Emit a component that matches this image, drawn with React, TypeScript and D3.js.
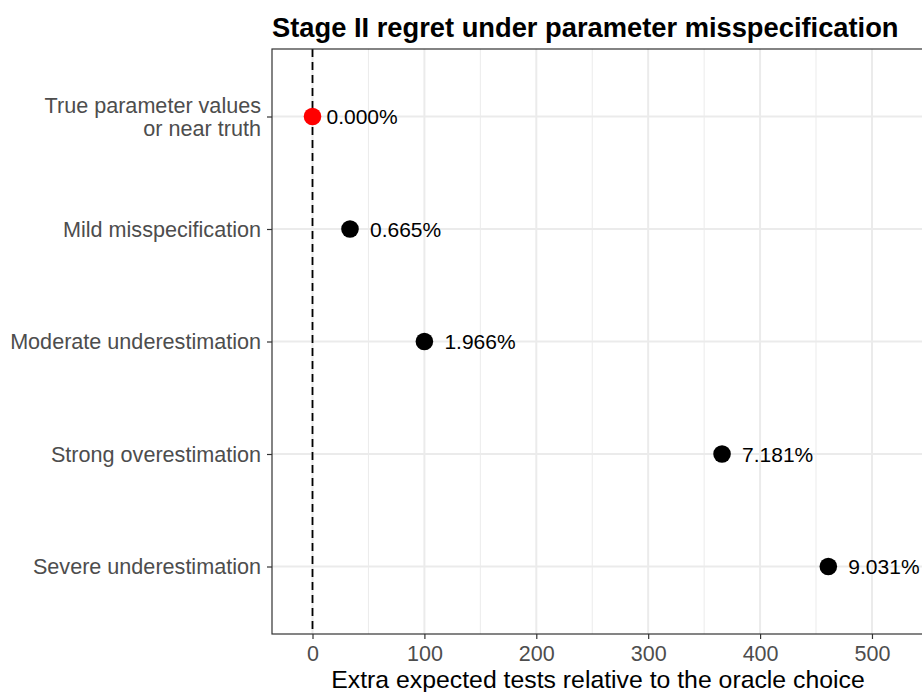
import React, { useEffect, useRef } from 'react';
import * as d3 from 'd3';

const scenarios = [
  'True parameter values\nor near truth',
  'Mild misspecification',
  'Moderate underestimation',
  'Strong overestimation',
  'Severe underestimation',
];
const extraTests = [0, 33.5, 100, 366, 461];
const regretPct = ['0.000%', '0.665%', '1.966%', '7.181%', '9.031%'];
const xTicks = [0, 100, 200, 300, 400, 500];
const xMinor = [50, 150, 250, 350, 450];

const App = () => {
  const svgRef = useRef<SVGSVGElement>(null);

  useEffect(() => {
    const width = 922;
    const height = 692;
    const margin = { top: 49, right: -2, bottom: 58, left: 272 };
    const font = '"Liberation Sans", Arial, sans-serif';

    const svg = d3.select(svgRef.current);
    svg.selectAll('*').remove();
    svg.attr('width', width).attr('height', height).style('font-family', font);

    const x = d3
      .scaleLinear()
      .domain([-36.2, 546.5])
      .range([margin.left, width - margin.right]);

    // discrete y with ggplot-like 0.6 expansion
    const y = d3
      .scalePoint<string>()
      .domain(scenarios)
      .range([margin.top, height - margin.bottom])
      .padding(0.6);

    const top = margin.top;
    const bottom = height - margin.bottom;
    const left = margin.left;
    const right = width - margin.right;

    svg.append('rect').attr('x', 0).attr('y', 0).attr('width', width).attr('height', height).attr('fill', 'white');

    // minor grid
    svg
      .selectAll('.minor')
      .data(xMinor)
      .enter()
      .append('line')
      .attr('x1', (d) => x(d))
      .attr('x2', (d) => x(d))
      .attr('y1', top)
      .attr('y2', bottom)
      .attr('stroke', '#ebebeb')
      .attr('stroke-width', 1);

    // major grid
    svg
      .selectAll('.majorx')
      .data(xTicks)
      .enter()
      .append('line')
      .attr('x1', (d) => x(d))
      .attr('x2', (d) => x(d))
      .attr('y1', top)
      .attr('y2', bottom)
      .attr('stroke', '#ebebeb')
      .attr('stroke-width', 2);

    svg
      .selectAll('.majory')
      .data(scenarios)
      .enter()
      .append('line')
      .attr('x1', left)
      .attr('x2', right)
      .attr('y1', (d) => y(d)!)
      .attr('y2', (d) => y(d)!)
      .attr('stroke', '#ebebeb')
      .attr('stroke-width', 2);

    // reference line at zero
    svg
      .append('line')
      .attr('x1', x(0))
      .attr('x2', x(0))
      .attr('y1', top)
      .attr('y2', bottom)
      .attr('stroke', 'black')
      .attr('stroke-width', 1.8)
      .attr('stroke-dasharray', '8,5');

    // points
    svg
      .selectAll('.dot')
      .data(scenarios)
      .enter()
      .append('circle')
      .attr('cx', (d, i) => x(extraTests[i]))
      .attr('cy', (d) => y(d)!)
      .attr('r', 8.8)
      .attr('fill', (d, i) => (i === 0 ? '#ff0000' : 'black'));

    // labels
    svg
      .selectAll('.lbl')
      .data(scenarios)
      .enter()
      .append('text')
      .attr('x', (d, i) => x(extraTests[i]) + (i === 0 ? 14 : 20))
      .attr('y', (d) => y(d)!)
      .attr('dy', '0.36em')
      .attr('font-size', 21)
      .attr('fill', 'black')
      .text((d, i) => regretPct[i]);

    // panel border
    svg
      .append('rect')
      .attr('x', left)
      .attr('y', top)
      .attr('width', right - left)
      .attr('height', bottom - top)
      .attr('fill', 'none')
      .attr('stroke', '#333333')
      .attr('stroke-width', 1.2);

    // x axis
    const xAxis = svg
      .append('g')
      .attr('transform', `translate(0,${bottom})`)
      .call(d3.axisBottom(x).tickValues(xTicks).tickSize(5).tickPadding(7).tickFormat(d3.format('d')));
    xAxis.select('.domain').remove();
    xAxis.selectAll('line').attr('stroke', '#333333').attr('stroke-width', 1.2);
    xAxis.selectAll('text').attr('font-size', 21.5).attr('fill', '#4d4d4d').attr('font-family', font);

    // y axis
    const yAxis = svg
      .append('g')
      .attr('transform', `translate(${left},0)`)
      .call(d3.axisLeft(y).tickSize(5).tickPadding(6).tickFormat(() => ''));
    yAxis.select('.domain').remove();
    yAxis.selectAll('line').attr('stroke', '#333333').attr('stroke-width', 1.2);

    const lh = 23;
    scenarios.forEach((s) => {
      const lines = s.split('\n');
      const t = svg
        .append('text')
        .attr('x', left - 11)
        .attr('y', y(s)! - ((lines.length - 1) * lh) / 2)
        .attr('text-anchor', 'end')
        .attr('font-size', 21.6)
        .attr('fill', '#4d4d4d');
      lines.forEach((ln, j) => {
        t.append('tspan')
          .attr('x', left - 11)
          .attr('dy', j === 0 ? '0.36em' : lh)
          .text(ln);
      });
    });

    // axis title
    svg
      .append('text')
      .attr('x', (left + right) / 2)
      .attr('y', 688)
      .attr('text-anchor', 'middle')
      .attr('font-size', 24.8)
      .attr('fill', 'black')
      .text('Extra expected tests relative to the oracle choice');

    // title
    svg
      .append('text')
      .attr('x', left)
      .attr('y', 37)
      .attr('font-size', 27.3)
      .attr('font-weight', 'bold')
      .attr('fill', 'black')
      .text('Stage II regret under parameter misspecification');
  }, []);

  return (
    <div style={{ position: 'absolute', left: 0, top: 0 }}>
      <svg ref={svgRef} style={{ display: 'block' }}></svg>
    </div>
  );
};

export default App;
